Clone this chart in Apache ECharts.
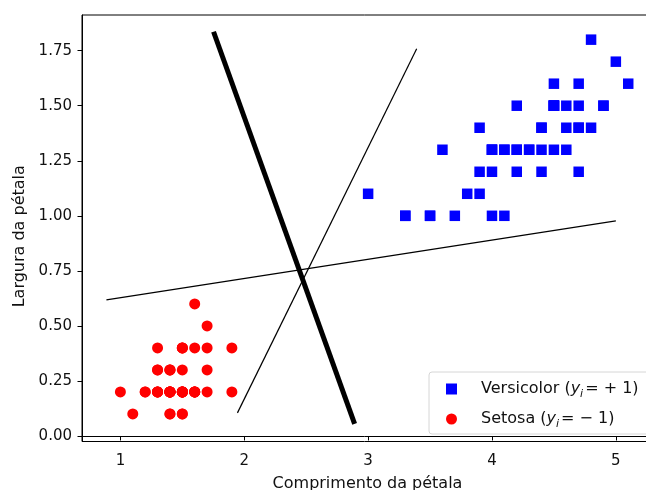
<!DOCTYPE html>
<html>
<head>
<meta charset="utf-8">
<script src="https://cdn.jsdelivr.net/npm/echarts@6/dist/echarts.min.js"></script>
<style>html,body{margin:0;padding:0;background:#fff;}#c{width:646px;height:490px;}</style>
</head>
<body>
<div id="c"></div>
<script>
// Versicolor: petal length, petal width
const versicolorLength = [4.7,4.5,4.9,4.0,4.6,4.5,4.7,3.3,4.6,3.9,3.5,4.2,4.0,4.7,3.6,4.4,4.5,4.1,4.5,3.9,4.8,4.0,4.9,4.7,4.3,4.4,4.8,5.0,4.5,3.5,3.8,3.7,3.9,5.1,4.5,4.5,4.7,4.4,4.1,4.0,4.4,4.6,4.0,3.3,4.2,4.2,4.2,4.3,3.0,4.1];
const versicolorWidth  = [1.4,1.5,1.5,1.3,1.5,1.3,1.6,1.0,1.3,1.4,1.0,1.5,1.0,1.4,1.3,1.4,1.5,1.0,1.5,1.1,1.8,1.3,1.5,1.2,1.3,1.4,1.4,1.7,1.5,1.0,1.1,1.0,1.2,1.6,1.5,1.6,1.5,1.3,1.3,1.3,1.2,1.4,1.2,1.0,1.3,1.2,1.3,1.3,1.1,1.3];
// Setosa: petal length, petal width
const setosaLength = [1.4,1.4,1.3,1.5,1.4,1.7,1.4,1.5,1.4,1.5,1.5,1.6,1.4,1.1,1.2,1.5,1.3,1.4,1.7,1.5,1.7,1.5,1.0,1.7,1.9,1.6,1.6,1.5,1.4,1.6,1.6,1.5,1.5,1.4,1.5,1.2,1.3,1.4,1.3,1.5,1.3,1.3,1.3,1.6,1.9,1.4,1.6,1.4,1.5,1.4];
const setosaWidth  = [0.2,0.2,0.2,0.2,0.2,0.4,0.3,0.2,0.2,0.1,0.2,0.2,0.1,0.1,0.2,0.4,0.4,0.3,0.3,0.3,0.2,0.4,0.2,0.5,0.2,0.2,0.4,0.2,0.2,0.2,0.2,0.4,0.1,0.2,0.2,0.2,0.2,0.1,0.2,0.2,0.3,0.3,0.2,0.6,0.4,0.3,0.2,0.2,0.2,0.2];
// Lines (x, y endpoints)
const thickLineX = [1.752, 2.891];
const thickLineY = [1.836, 0.055];
const thinLine1X = [1.945, 3.392];
const thinLine1Y = [0.105, 1.759];
const thinLine2X = [0.887, 5.0];
const thinLine2Y = [0.618, 0.977];
// Tick labels
const xTicks = [1, 2, 3, 4, 5];
const yTicks = [0, 0.25, 0.5, 0.75, 1.0, 1.25, 1.5, 1.75];

const zip = (a, b) => a.map((v, i) => [v, b[i]]);

const chart = echarts.init(document.getElementById('c'), null, {renderer: 'canvas'});
const font = 'DejaVu Sans';
chart.setOption({
  animation: false,
  backgroundColor: '#fff',
  textStyle: {fontFamily: font},
  grid: {left: 82, top: 15, width: 571, height: 426.5, show: true, borderColor: '#000', borderWidth: 1, containLabel: false, outerBoundsMode: 'none'},
  xAxis: {
    type: 'value', min: 0.69, max: 5.30,
    name: 'Comprimento da pétala', nameLocation: 'middle', nameGap: 34,
    nameTextStyle: {fontFamily: font, fontSize: 16, color: '#111'},
    splitLine: {show: false},
    axisLine: {show: true, lineStyle: {color: '#000', width: 1}},
    axisTick: {show: true, length: 4.5, lineStyle: {color: '#000'}, customValues: xTicks},
    axisLabel: {fontFamily: font, fontSize: 15, color: '#111', margin: 12, customValues: xTicks, formatter: v => String(v)}
  },
  yAxis: {
    type: 'value', min: -0.025, max: 1.912,
    name: 'Largura da pétala', nameLocation: 'middle', nameGap: 54, nameRotate: 90,
    nameTextStyle: {fontFamily: font, fontSize: 16, color: '#111', padding: [0, 16, 0, 0]},
    splitLine: {show: false},
    axisLine: {show: true, lineStyle: {color: '#000', width: 1}},
    axisTick: {show: true, length: 4.5, lineStyle: {color: '#000'}, customValues: yTicks},
    axisLabel: {fontFamily: font, fontSize: 15, color: '#111', margin: 10, customValues: yTicks, formatter: v => v.toFixed(2)}
  },
  legend: {
    data: ['Versicolor', 'Setosa'],
    orient: 'vertical', left: 429, top: 372,
    padding: [9, 20, 4, 17], itemGap: 11, itemWidth: 11, itemHeight: 11,
    backgroundColor: 'rgba(255,255,255,0.85)', borderColor: '#d6d6d6', borderWidth: 1, borderRadius: 3,
    formatter: function (name) {
      if (name === 'Versicolor') return '{a|Versicolor (}{it|y}{sub|i}{a|= + 1)}';
      return '{a|Setosa (}{it|y}{sub|i}{a|= − 1)}';
    },
    textStyle: {
      fontFamily: font, fontSize: 16, color: '#111', padding: [0, 0, 0, 19],
      rich: {
        a: {fontFamily: font, fontSize: 16, color: '#111', lineHeight: 22},
        it: {fontFamily: font, fontSize: 16, fontStyle: 'italic', color: '#111', lineHeight: 22},
        sub: {fontFamily: font, fontSize: 11, fontStyle: 'italic', color: '#111', verticalAlign: 'bottom', lineHeight: 14, padding: [6, 2, 0, 0]}
      }
    }
  },
  series: [
    {name: 'Versicolor', type: 'scatter', symbol: 'rect', symbolSize: 10.5, itemStyle: {color: '#0000ff', opacity: 1}, data: zip(versicolorLength, versicolorWidth), z: 3},
    {name: 'Setosa', type: 'scatter', symbol: 'circle', symbolSize: 11, itemStyle: {color: '#ff0000', opacity: 1}, data: zip(setosaLength, setosaWidth), z: 3},
    {name: 'thick', type: 'line', symbol: 'none', lineStyle: {color: '#000', width: 5}, data: zip(thickLineX, thickLineY), z: 4},
    {name: 'thin1', type: 'line', symbol: 'none', lineStyle: {color: '#000', width: 1.2}, data: zip(thinLine1X, thinLine1Y), z: 4},
    {name: 'thin2', type: 'line', symbol: 'none', lineStyle: {color: '#000', width: 1.2}, data: zip(thinLine2X, thinLine2Y), z: 4}
  ]
});
</script>
</body>
</html>
